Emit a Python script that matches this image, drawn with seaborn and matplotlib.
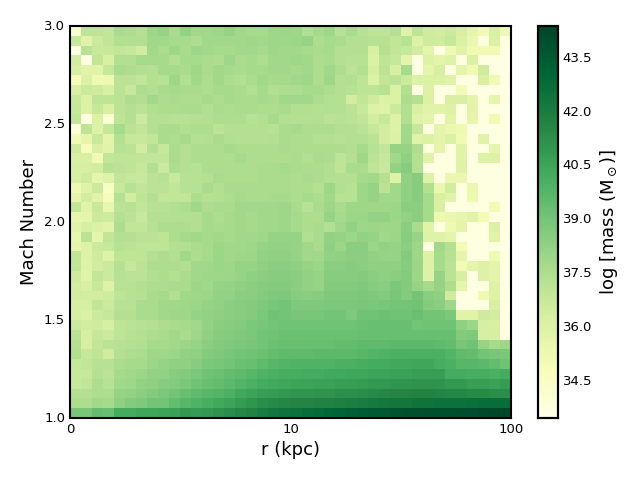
#!/usr/bin/env python3
import numpy as np
import matplotlib
matplotlib.use('Agg')
import matplotlib.pyplot as plt
import seaborn as sns

# log mass per bin, top row is Mach 3.0
left_rows = [
    [34.2,37.0,37.0,36.9,37.6,37.5,37.3,37.9,38.1,37.6,38.2,37.8,37.8,37.9,38.1,37.8,37.7,37.7,37.9,38.0],
    [36.8,35.8,36.6,36.9,37.4,37.4,37.4,37.8,37.8,37.7,37.7,37.5,37.8,37.8,37.8,37.8,37.9,37.8,37.9,37.9],
    [33.6,37.2,36.7,36.7,36.9,36.8,36.4,37.8,37.6,37.9,37.6,38.0,37.8,37.7,37.7,37.8,37.8,37.7,37.9,37.8],
    [36.4,33.6,36.9,36.2,37.4,37.4,37.7,37.7,37.7,37.4,37.7,37.7,37.6,37.5,37.9,37.6,37.7,37.5,37.8,37.8],
    [36.3,35.8,35.8,36.8,37.6,37.5,37.4,37.3,37.7,37.7,37.6,37.9,37.6,37.8,37.7,37.6,37.7,37.7,37.8,37.8],
    [34.8,36.1,35.2,35.3,37.1,37.1,36.9,37.3,37.2,37.9,37.4,37.8,37.5,37.8,37.5,37.4,37.6,37.8,37.7,37.7],
    [36.2,36.6,36.5,36.2,37.1,36.8,37.5,37.4,37.6,37.7,37.6,37.6,37.5,37.7,37.7,37.6,37.4,37.7,37.4,37.5],
    [36.7,36.1,37.0,37.0,37.1,37.5,37.4,37.8,37.5,37.6,37.5,37.5,37.7,37.5,37.7,37.6,37.6,37.7,37.6,37.8],
    [36.8,36.1,36.8,36.2,37.1,37.3,37.1,37.4,37.5,37.5,37.6,37.6,37.4,37.6,37.5,37.6,37.6,37.5,37.5,37.6],
    [36.9,33.7,36.1,34.0,37.0,37.3,36.6,37.3,37.3,37.2,37.2,37.3,37.4,37.5,37.5,37.5,37.2,37.4,37.7,37.4],
    [33.8,37.0,36.0,36.8,37.7,37.1,36.9,37.3,37.6,37.6,37.4,37.5,37.5,37.1,37.3,37.3,37.3,37.3,37.2,37.6],
    [35.1,35.6,36.7,35.7,37.3,36.8,36.7,36.9,37.6,37.5,37.7,37.3,37.4,37.6,37.4,37.3,37.3,37.3,37.4,37.6],
    [36.5,34.8,36.2,35.8,37.2,37.1,36.4,37.3,36.8,37.6,37.3,37.5,37.5,37.5,37.7,37.5,37.5,37.5,37.5,37.6],
    [36.2,36.2,35.1,36.9,37.0,37.0,36.9,36.9,36.9,37.6,37.3,37.5,37.5,37.5,37.5,37.7,37.5,37.5,37.5,37.5],
    [36.3,36.3,36.4,37.2,37.1,37.0,36.8,37.4,36.6,37.5,37.3,37.2,37.5,37.5,37.5,37.5,37.5,37.6,37.6,37.7],
    [36.3,36.5,35.6,35.9,36.9,36.8,36.7,37.1,37.2,36.7,37.2,37.2,37.3,37.6,37.5,37.5,37.5,37.6,37.6,37.6],
    [35.2,35.9,36.6,34.4,36.8,37.2,36.9,37.1,37.1,36.9,37.2,37.2,37.6,37.4,37.6,37.6,37.6,37.6,37.6,37.6],
    [35.6,36.4,35.8,34.9,37.3,36.4,37.0,37.4,36.9,36.9,36.9,37.5,37.3,37.4,37.5,37.7,37.6,37.6,37.7,37.7],
    [36.9,35.8,36.7,35.5,37.1,37.2,36.9,37.2,37.2,37.4,37.5,37.8,37.5,37.6,37.6,37.8,37.8,37.8,37.8,37.9],
    [35.6,35.6,36.6,36.5,37.3,37.1,36.7,37.3,37.3,37.4,37.4,37.4,37.7,37.5,37.7,37.8,37.7,37.8,37.8,37.9],
    [35.8,36.3,36.1,35.8,37.5,36.9,36.9,37.2,37.5,37.5,37.5,37.4,37.7,37.6,37.7,37.8,37.7,37.8,37.8,37.9],
    [35.5,37.1,35.6,36.9,37.3,37.3,37.1,37.1,37.0,37.5,37.7,37.8,37.7,37.8,37.7,37.8,37.8,37.9,38.1,38.1],
    [35.6,36.0,36.6,36.8,37.2,37.1,37.0,37.0,37.0,37.3,37.4,37.6,37.7,38.0,37.8,37.8,37.9,38.1,38.2,38.2],
    [36.9,36.0,36.5,35.9,37.0,37.0,37.0,37.3,37.5,37.4,37.8,37.5,37.7,38.0,37.8,37.9,38.0,38.2,38.3,38.3],
    [36.9,35.9,36.4,36.6,37.3,36.8,37.1,37.5,37.5,37.5,37.4,37.8,37.8,38.0,37.9,38.1,38.1,38.3,38.4,38.4],
    [36.5,35.8,36.9,36.6,37.2,37.1,37.1,37.4,37.5,37.3,37.6,37.8,37.9,37.9,38.0,38.1,38.3,38.4,38.5,38.5],
    [36.4,36.2,36.7,36.0,37.2,37.2,37.4,37.5,37.5,37.6,37.6,38.0,37.8,38.1,38.1,38.3,38.4,38.5,38.6,38.6],
    [36.4,36.4,36.4,36.5,37.0,37.2,37.3,37.6,37.7,37.4,37.8,37.9,38.0,38.2,38.2,38.4,38.4,38.6,38.7,38.7],
    [36.3,36.3,36.9,36.6,37.2,37.2,37.6,37.6,37.8,37.8,37.9,38.0,38.1,38.2,38.4,38.5,38.6,38.7,38.9,39.0],
    [36.3,36.1,36.6,36.8,37.3,37.3,37.6,37.6,37.8,37.9,37.9,38.1,38.2,38.3,38.4,38.5,38.6,38.8,39.1,39.0],
    [36.6,36.4,36.5,36.3,37.0,37.1,37.2,37.3,37.5,37.6,37.7,37.8,38.2,38.4,38.5,38.6,38.8,38.9,39.0,39.1],
    [37.1,36.3,36.8,36.6,37.0,37.2,37.3,37.5,37.6,37.8,37.6,37.9,38.3,38.5,38.6,38.7,38.8,39.0,39.1,39.2],
    [37.3,36.3,36.9,37.1,37.2,37.3,37.4,37.7,37.7,37.8,38.0,38.1,38.4,38.6,38.7,38.8,38.9,39.0,39.2,39.3],
    [37.4,36.8,37.0,36.5,37.3,37.5,37.6,37.9,37.9,38.0,38.2,38.3,38.6,38.7,38.9,39.0,39.1,39.2,39.4,39.5],
    [36.8,36.9,37.2,37.2,37.5,37.7,37.7,38.0,38.1,38.3,38.3,38.5,38.8,38.9,39.0,39.2,39.3,39.5,39.7,39.8],
    [36.7,36.8,37.3,37.1,37.7,37.8,38.0,38.2,38.2,38.5,38.6,38.8,39.1,39.2,39.4,39.5,39.7,39.9,40.0,40.1],
    [36.7,36.9,37.5,37.2,37.8,37.9,38.2,38.3,38.5,38.6,38.8,39.1,39.3,39.4,39.6,39.8,40.0,40.2,40.3,40.4],
    [37.3,37.3,37.5,37.5,38.1,38.2,38.4,38.6,38.8,39.0,39.3,39.5,39.7,39.8,40.0,40.3,40.5,40.7,40.8,40.9],
    [37.5,37.5,37.8,37.7,38.3,38.6,38.7,39.0,39.0,39.4,39.7,39.9,40.1,40.3,40.5,40.8,41.0,41.3,41.4,41.5],
    [38.9,38.9,39.4,39.3,40.2,40.2,40.4,40.4,40.5,40.6,40.9,40.8,40.9,41.1,41.3,41.5,41.7,42.0,42.2,42.4],
]

right_rows = [
    [37.9,37.4,37.7,37.9,37.2,37.6,37.2,37.0,37.0,37.3,35.9,37.0,36.5,36.4,36.6,36.2,35.6,35.1,36.2,35.2],
    [38.0,38.1,37.5,37.7,37.6,37.3,37.3,37.2,37.2,36.9,37.2,36.0,36.5,36.5,36.8,36.1,35.4,33.7,36.1,33.7],
    [37.8,37.7,37.6,37.7,37.3,37.3,37.3,36.2,37.3,36.9,36.8,36.4,35.7,33.5,35.2,35.8,35.1,35.1,35.1,33.7],
    [37.9,37.8,37.5,37.6,37.3,37.2,37.2,36.1,37.0,36.8,35.7,33.6,36.0,35.7,35.9,33.6,36.1,33.6,33.6,33.6],
    [37.7,37.8,37.5,37.8,37.5,37.1,37.4,36.3,37.1,36.3,37.7,33.6,35.6,36.3,33.6,35.7,35.1,36.5,33.6,33.6],
    [37.8,37.9,37.5,37.9,37.3,37.4,37.0,36.1,36.9,37.1,36.6,36.1,36.1,36.1,35.8,33.6,33.6,36.2,35.2,33.6],
    [37.5,37.7,37.7,37.5,37.3,37.2,37.0,37.0,37.2,36.1,37.4,33.6,36.0,33.6,33.6,35.0,33.6,33.6,33.6,33.6],
    [37.8,37.8,37.5,37.4,37.3,36.4,36.9,36.5,36.1,36.1,37.5,37.3,36.1,33.6,36.2,36.2,35.7,33.6,35.6,33.6],
    [37.4,37.4,37.3,37.4,37.3,37.1,36.7,36.0,35.9,36.6,37.4,36.2,35.8,35.8,36.0,33.6,35.7,33.6,33.6,33.6],
    [37.3,37.3,37.4,37.1,37.2,37.1,36.9,36.4,36.8,36.0,37.4,35.9,35.7,33.6,35.8,33.6,35.6,33.6,35.1,33.6],
    [37.7,37.5,37.5,37.5,37.3,37.3,37.1,36.8,36.4,36.0,37.8,36.8,33.6,35.7,35.4,35.3,33.6,33.6,33.6,33.6],
    [37.5,37.5,37.3,37.3,37.2,37.3,37.3,37.1,36.4,36.1,37.8,35.9,36.1,35.7,36.1,35.1,33.6,35.8,33.6,33.6],
    [37.5,37.5,37.5,37.5,37.5,37.4,37.7,37.2,36.9,38.1,38.1,37.5,33.6,35.6,33.6,35.8,33.6,33.6,35.6,33.6],
    [37.6,37.4,37.6,37.5,37.0,37.3,37.9,37.1,36.8,37.8,38.3,37.3,35.8,33.6,33.6,35.9,33.6,36.0,36.0,33.6],
    [37.6,37.5,37.5,37.4,37.0,37.6,37.6,37.0,36.7,38.2,38.5,37.3,33.6,33.6,33.6,35.9,33.6,33.6,33.6,33.6],
    [37.5,37.6,37.5,37.4,37.3,37.3,37.7,37.8,37.3,35.9,38.3,38.5,36.0,33.6,35.4,35.4,33.6,33.6,33.6,33.6],
    [37.5,37.5,37.3,37.9,37.4,37.2,37.9,38.1,37.1,37.8,38.3,38.5,37.4,35.4,36.4,33.6,35.4,33.6,33.6,33.6],
    [37.5,37.7,37.5,37.8,37.2,37.2,37.9,38.1,37.8,37.8,38.3,38.5,37.7,36.2,35.8,33.6,35.3,33.6,33.6,33.6],
    [37.6,37.2,37.6,37.9,37.6,37.9,37.9,37.9,37.9,38.0,38.4,38.4,37.7,36.2,33.6,33.6,33.6,33.6,35.0,33.6],
    [37.7,37.5,37.5,38.1,37.7,38.0,38.0,38.2,38.2,38.0,38.2,38.4,37.7,35.3,35.4,35.6,35.8,35.0,33.6,33.6],
    [37.7,37.5,37.6,37.4,37.8,38.2,37.9,38.0,37.9,37.9,38.4,37.6,35.8,33.6,35.2,35.7,33.6,33.6,36.1,33.6],
    [38.1,37.4,37.6,38.2,38.1,38.0,38.2,38.1,37.8,38.0,38.5,38.1,35.9,35.9,35.6,33.6,33.6,33.6,35.8,33.6],
    [38.1,37.8,37.6,38.3,38.0,38.4,38.4,38.0,38.2,38.1,38.4,38.0,33.6,37.8,37.3,35.0,33.6,33.6,33.6,33.6],
    [38.1,37.8,37.8,38.2,38.3,38.4,38.4,38.2,38.1,38.1,38.6,37.9,36.0,37.7,37.2,35.6,33.6,33.6,35.2,33.6],
    [38.3,38.1,38.0,38.4,38.4,38.5,38.4,38.3,38.3,38.3,38.5,38.0,36.0,37.7,37.1,35.0,35.7,36.0,35.7,33.6],
    [38.4,38.2,38.1,38.5,38.5,38.5,38.6,38.4,38.3,38.4,38.6,38.0,36.0,38.1,37.1,36.3,33.6,36.0,35.7,33.6],
    [38.4,38.2,38.1,38.6,38.6,38.6,38.7,38.5,38.4,38.8,38.6,38.1,37.7,38.1,37.5,35.6,33.6,33.6,36.0,33.6],
    [38.5,38.4,38.5,38.7,38.7,38.7,38.8,38.7,38.6,38.9,38.6,39.0,38.4,38.3,36.5,33.6,33.6,35.2,35.9,33.6],
    [38.7,38.7,38.7,38.8,38.8,38.8,38.9,38.8,38.9,39.0,39.0,39.1,38.6,38.4,37.9,33.6,33.6,33.6,36.2,33.6],
    [38.9,38.9,38.9,39.0,39.0,38.7,39.1,39.1,39.2,39.1,39.1,39.3,39.0,39.0,38.8,35.8,35.8,36.5,36.4,33.6],
    [39.1,39.1,39.1,39.1,39.1,39.1,39.2,39.3,39.3,39.3,39.3,39.0,39.1,39.1,39.1,38.3,38.0,36.3,36.2,33.6],
    [39.2,39.2,39.2,39.2,39.2,39.2,39.3,39.3,39.3,39.3,39.3,39.3,39.3,39.3,39.3,38.6,38.7,36.3,36.3,33.6],
    [39.3,39.3,39.3,39.3,39.4,39.4,39.5,39.5,39.5,39.6,39.6,39.6,39.6,39.5,39.4,38.9,39.1,38.1,37.7,37.9],
    [39.5,39.5,39.6,39.6,39.6,39.6,39.7,39.8,39.9,40.0,40.0,40.0,40.0,40.0,39.8,39.5,39.4,39.0,38.9,38.8],
    [39.9,39.9,39.9,39.9,40.0,40.0,40.1,40.2,40.2,40.3,40.3,40.4,40.4,40.1,40.0,39.7,39.7,39.6,39.4,39.1],
    [40.1,40.2,40.2,40.3,40.3,40.4,40.4,40.5,40.5,40.6,40.6,40.7,40.7,40.7,40.2,40.2,40.1,40.1,40.0,40.2],
    [40.5,40.5,40.6,40.6,40.7,40.7,40.8,40.9,40.9,41.0,41.0,41.1,41.1,41.1,40.9,40.9,40.7,40.7,40.6,40.8],
    [41.0,41.0,41.1,41.1,41.2,41.2,41.3,41.4,41.5,41.6,41.6,41.7,41.7,41.6,41.5,41.5,41.4,41.4,41.3,41.3],
    [41.6,41.6,41.7,41.7,41.8,41.9,42.0,42.1,42.2,42.3,42.3,42.4,42.4,42.5,42.5,42.5,42.6,42.7,42.7,42.7],
    [42.5,42.7,42.8,43.0,43.1,43.3,43.4,43.5,43.6,43.7,43.8,43.8,43.9,43.9,43.9,44.0,44.0,44.1,44.2,44.3],
]

r_ticks = ['0', '10', '100']
mach_ticks = ['3.0', '2.5', '2.0', '1.5', '1.0']
cbar_ticks = [34.5, 36.0, 37.5, 39.0, 40.5, 42.0, 43.5]

mass = np.hstack([np.array(left_rows), np.array(right_rows)])

sns.set_style('white')
plt.rcParams['font.family'] = ['DejaVu Sans']
plt.rcParams['mathtext.default'] = 'regular'
plt.rcParams['text.color'] = 'black'
plt.rcParams['axes.labelcolor'] = 'black'

fig = plt.figure(figsize=(6.4, 4.8), dpi=100)
ax = fig.add_axes([70 / 640, 62 / 480, 441 / 640, 392 / 480])
cax = fig.add_axes([538 / 640, 62 / 480, 20 / 640, 392 / 480])

sns.heatmap(mass, cmap='YlGn', vmin=33.45, vmax=44.35, ax=ax, cbar_ax=cax,
            cbar_kws={'ticks': cbar_ticks, 'format': '%.1f'})

# heatmap switches the spines off and puts the ticks on the cell centres
ax.set_xticks([0, 20, 40])
ax.set_xticklabels(r_ticks, rotation=0)
ax.set_yticks([0, 10, 20, 30, 40])
ax.set_yticklabels(mach_ticks, rotation=0)
ax.tick_params(direction='in', length=4, width=0.6, top=True, right=True,
               bottom=True, left=True, labelsize=9.5, colors='black')
ax.set_xlabel('r (kpc)', fontsize=13)
ax.set_ylabel('Mach Number', fontsize=13)
for side in ax.spines.values():
    side.set_visible(True)
    side.set_linewidth(1.5)
    side.set_color('black')

cax.tick_params(direction='in', length=4, width=0.6, right=True, labelsize=9.5, colors='black')
cax.set_ylabel(r'log [mass (M$_\odot$)]', fontsize=13)
for side in cax.spines.values():
    side.set_visible(True)
    side.set_linewidth(1.5)
    side.set_color('black')

fig.savefig('out.png', dpi=100)
